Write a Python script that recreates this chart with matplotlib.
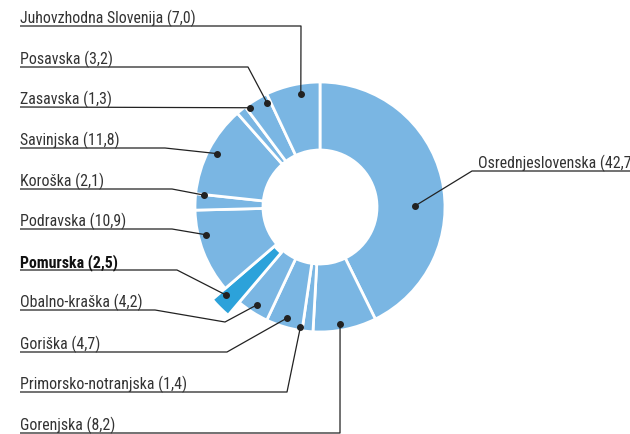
import numpy as np
import matplotlib.pyplot as plt

plt.rcParams['font.family'] = ['Roboto Condensed', 'DejaVu Sans']

# shares by region, clockwise from 12 o'clock
regions = ['Osrednjeslovenska', 'Gorenjska', 'Primorsko-notranjska', 'Goriška',
           'Obalno-kraška', 'Pomurska', 'Podravska', 'Koroška', 'Savinjska',
           'Zasavska', 'Posavska', 'Juhovzhodna Slovenija']
shares = [42.7, 8.2, 1.4, 4.7, 4.2, 2.5, 10.9, 2.1, 11.8, 1.3, 3.2, 7.0]
highlight = 'Pomurska'

W, H = 630, 435
cx, cy = 320, H - 208
R_out, R_in = 125, 57

light = '#7ab6e3'
dark = '#2ca2da'
ink = '#222222'

# label layout: (text x, underline y, bend points) in pixel coords (y down)
label_layout = {
    'Juhovzhodna Slovenija': (20, 27, [(20, 27), (301, 27)]),
    'Posavska': (20, 68, [(20, 68), (248, 68)]),
    'Zasavska': (20, 108, [(20, 108)]),
    'Savinjska': (20, 149, [(20, 149), (165, 149)]),
    'Koroška': (20, 190, [(20, 190), (172, 190)]),
    'Podravska': (20, 230, [(20, 230), (172, 230)]),
    'Pomurska': (20, 271, [(20, 271), (177, 271)]),
    'Obalno-kraška': (20, 311, [(20, 311), (155, 311), (225, 323)]),
    'Goriška': (20, 353, [(20, 353), (227, 353)]),
    'Primorsko-notranjska': (20, 393, [(20, 393), (287, 393)]),
    'Gorenjska': (20, 434, [(20, 434), (340, 434)]),
    'Osrednjeslovenska': (478, 172, [(640, 172), (472, 172)]),
}
# small nudges of the marker dots (degrees, fraction of outer radius)
dot_shift = {'Osrednjeslovenska': (-12.5, 0.76), 'Podravska': (-7.4, 0.94),
             'Koroška': (-3.5, 0.93), 'Zasavska': (-4, 0.97), 'Posavska': (-4, 0.93),
             'Juhovzhodna Slovenija': (-3, 0.92), 'Gorenjska': (-1.8, 0.95),
             'Primorsko-notranjska': (-3.5, 0.97), 'Pomurska': (-2, 1.03)}

fig = plt.figure(figsize=(W / 100, H / 100), dpi=100)
ax = fig.add_axes([0, 0, 1, 1])

colors = [dark if r == highlight else light for r in regions]
wedges, _ = ax.pie(shares, colors=colors, startangle=90, counterclock=False,
                   center=(cx, cy), radius=R_out,
                   wedgeprops=dict(width=R_out - R_in, edgecolor='white', linewidth=2))

# the highlighted slice sticks out of the ring
hi = regions.index(highlight)
wedges[hi].set_radius(142)
wedges[hi].set_width(142 - 60)

ax.set_xlim(0, W)
ax.set_ylim(0, H)
ax.set_aspect('equal')
ax.axis('off')

for w, name, val in zip(wedges, regions, shares):
    mid = (w.theta1 + w.theta2) / 2
    da, rf = dot_shift.get(name, (0, 0.93))
    ang = np.deg2rad(mid + da)
    dx_, dy_ = cx + rf * R_out * np.cos(ang), cy + rf * R_out * np.sin(ang)

    tx, ly, pts = label_layout[name]
    xs = [p[0] for p in pts] + [dx_]
    ys = [H - p[1] for p in pts] + [dy_]
    ax.plot(xs, ys, color=ink, lw=0.9, solid_capstyle='butt', clip_on=False)
    ax.plot(dx_, dy_, 'o', color=ink, markersize=4)

    txt = f'{name} ({val:.1f})'.replace('.', ',')
    bold = name == highlight
    ax.text(tx, H - ly + 4, txt, fontsize=11.4, ha='left', va='baseline',
            color='#111111' if bold else '#333333',
            fontweight='bold' if bold else 'normal')

fig.savefig('out.png', dpi=100)
